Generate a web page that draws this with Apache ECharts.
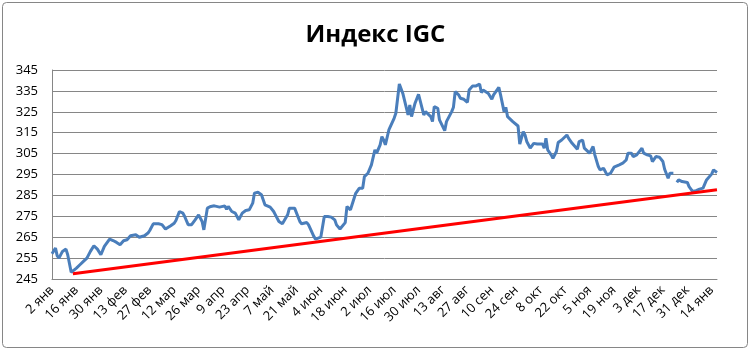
<!DOCTYPE html>
<html><head><meta charset="utf-8">
<script src="https://cdn.jsdelivr.net/npm/echarts@6/dist/echarts.min.js"></script>
<style>html,body{margin:0;padding:0;background:#fff;}#c{width:751px;height:352px;}</style>
</head><body><div id="c"></div>
<script>
// Day offsets from 2 Jan 2012
const days = [
0,2,3,4,6,8,9,11,12,14,
16,18,20,22,24,26,28,30,33,35,
37,39,41,43,45,48,50,53,55,56,
58,61,63,65,68,70,71,72,73,75,
76,78,80,82,84,86,87,89,91,93,
96,99,100,101,103,105,106,107,109,111,
113,115,116,118,120,122,123,125,127,128,
129,130,132,133,135,136,137,139,142,143,
146,147,150,151,154,155,156,158,160,162,
163,165,168,169,171,174,176,178,179,181,
183,185,186,188,189,190,191,193,196,197,
199,201,204,205,206,208,210,213,214,217,
218,219,221,222,225,226,229,230,231,233,
234,236,238,239,241,243,245,246,247,250,
252,253,256,257,259,260,261,262,264,267,
268,270,271,272,274,276,278,281,282,283,
284,286,287,289,290,292,295,296,298,301,
302,304,305,308,310,311,313,314,316,318,
320,322,323,325,327,329,330,332,333,335,
336,338,339,341,343,344,346,348,350,351,
353,354,356,357,358,359,361,364,365,367,
369,371,373,375,378,379,381
];
const values = [
257.1,259.8,256.1,255.0,258.2,259.3,256.6,248.2,247.5,250.2,
251.8,253.4,255.0,258.2,260.9,259.3,256.6,260.6,264.1,263.4,
262.5,261.4,263.3,263.8,265.7,266.2,265.0,265.7,267.0,268.2,
271.4,271.4,271.0,268.9,270.5,271.7,273.0,272.5,277.3,276.5,
274.9,271.0,271.0,273.3,275.7,272.5,268.5,278.9,279.7,280.0,
279.4,280.0,278.4,279.7,277.3,276.5,274.9,273.3,276.5,277.8,
278.1,281.3,286.1,286.5,285.3,280.5,280.5,279.4,277.3,275.7,
276.0,272.5,271.4,270.5,275.7,278.9,278.1,278.9,272.5,271.4,
272.0,270.9,265.4,264.1,265.0,265.0,274.9,274.9,274.6,273.3,
270.9,268.9,272.0,279.7,278.1,286.0,288.4,288.4,294.0,295.6,
299.6,306.8,305.2,309.2,313.1,311.5,309.2,316.3,321.9,324.3,
338.3,333.8,323.5,328.3,322.7,329.1,333.4,323.5,325.1,322.7,
320.3,327.5,326.7,321.1,316.0,320.3,325.1,327.2,334.6,333.1,
331.5,331.0,329.5,335.4,337.4,337.4,338.3,334.2,335.4,333.8,
331.0,333.1,336.7,333.1,325.1,327.2,322.7,321.9,320.3,318.2,
309.6,315.5,313.9,310.8,307.6,309.9,309.6,309.6,307.6,312.3,
306.8,304.4,302.8,306.0,310.3,311.5,313.9,312.3,309.9,307.1,
310.7,311.5,307.6,305.2,308.4,304.4,298.8,297.2,298.0,294.8,
295.6,298.5,298.0,299.6,300.4,302.0,305.2,305.2,303.6,304.4,
305.2,307.6,305.2,304.4,303.9,301.2,303.6,303.3,301.2,297.5,
293.2,295.6,295.6,null,291.2,292.4,291.6,291.2,289.2,286.9,
287.3,288.0,288.5,292.4,295.3,297.2,296.0
];
const trendDays = [12, 381];
const trendValues = [247.5, 287.7];
const tickLabels = ['2 янв','16 янв','30 янв','13 фев','27 фев','12 мар','26 мар','9 апр','23 апр','7 май','21 май','4 июн','18 июн','2 июл','16 июл','30 июл','13 авг','27 авг','10 сен','24 сен','8 окт','22 окт','5 ноя','19 ноя','3 дек','17 дек','31 дек','14 янв'];
const titleText = 'Индекс IGC';

const chart = echarts.init(document.getElementById('c'), null, {renderer: 'canvas'});
chart.setOption({
  animation: false,
  backgroundColor: '#fff',
  title: {text: titleText, left: 'center', top: 18,
    textStyle: {fontFamily: 'Open Sans', fontWeight: 'bold', fontSize: 24, color: '#000'}},
  graphic: [{type: 'rect', shape: {x: 2.5, y: 2.5, width: 745, height: 345, r: 4},
    style: {fill: 'none', stroke: '#868686', lineWidth: 1}, silent: true, z: 100}],
  grid: {left: 52, right: 34, top: 70, bottom: 73, containLabel: false},
  xAxis: {type: 'value', min: 0, max: 381, interval: 14,
    axisLine: {show: true, lineStyle: {color: '#868686'}},
    axisTick: {show: false}, splitLine: {show: false},
    axisLabel: {rotate: 45, margin: 9, fontFamily: 'Open Sans', fontSize: 13, color: '#000',
      showMaxLabel: false,
      formatter: function (v) { return v % 14 === 0 ? (tickLabels[v / 14] || '') : ''; }}},
  yAxis: {type: 'value', min: 245, max: 345, interval: 10,
    axisLine: {show: true, lineStyle: {color: '#868686'}},
    axisTick: {show: false},
    splitLine: {show: true, lineStyle: {color: '#868686', width: 1}},
    axisLabel: {margin: 14, fontFamily: 'Open Sans', fontSize: 13, color: '#000'}},
  series: [
    {type: 'line', data: days.map((d, i) => [d, values[i]]), showSymbol: false, symbol: 'none',
     connectNulls: false, lineStyle: {color: '#4a7ebb', width: 3}, z: 3},
    {type: 'line', data: trendDays.map((d, i) => [d, trendValues[i]]), showSymbol: false, symbol: 'none',
     lineStyle: {color: '#ff0000', width: 3}, z: 4}
  ]
});
</script></body></html>
